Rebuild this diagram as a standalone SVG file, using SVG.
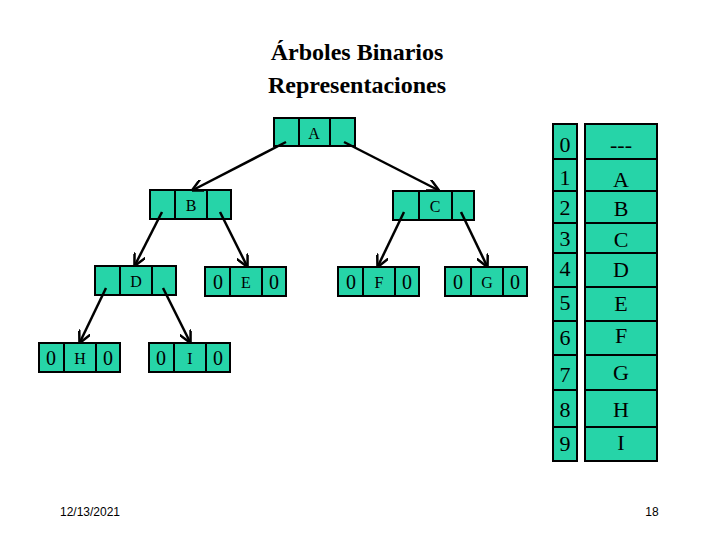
<svg xmlns="http://www.w3.org/2000/svg" width="720" height="540" viewBox="0 0 720 540">
<style>
.c{fill:#00cc99;fill-opacity:0.85;stroke:#000;stroke-width:2}
.t{font-family:"Liberation Serif",serif;font-size:16px;fill:#000;text-anchor:middle}
.tz{font-family:"Liberation Serif",serif;font-size:20px;fill:#000;text-anchor:middle}
.tb{font-family:"Liberation Serif",serif;font-size:22px;fill:#000;text-anchor:middle}
.f{font-family:"Liberation Sans",sans-serif;font-size:12px;fill:#000;text-anchor:middle}
.e{stroke:#000;stroke-width:2.5;fill:none;marker-end:url(#ar)}
</style>
<defs><marker id="ar" viewBox="0 0 10 10" refX="9" refY="5" markerWidth="5" markerHeight="5" orient="auto"><path d="M0,0 L10,5 L0,10" fill="none" stroke="#000" stroke-width="2"/></marker></defs>
<text x="357" y="60" font-family="Liberation Serif,serif" font-size="24" font-weight="bold" text-anchor="middle">Árboles Binarios</text>
<text x="357" y="93" font-family="Liberation Serif,serif" font-size="24" font-weight="bold" text-anchor="middle">Representaciones</text>
<g id="A"><rect class="c" x="274" y="118" width="25" height="28"/><rect class="c" x="299" y="118" width="31" height="28"/><rect class="c" x="330" y="118" width="25" height="28"/><text class="t" x="314" y="139">A</text></g>
<g id="B"><rect class="c" x="150" y="190" width="25" height="29"/><rect class="c" x="175" y="190" width="32" height="29"/><rect class="c" x="207" y="190" width="24" height="29"/><text class="t" x="191" y="211">B</text></g>
<g id="C"><rect class="c" x="393" y="191" width="26" height="29"/><rect class="c" x="419" y="191" width="33" height="29"/><rect class="c" x="452" y="191" width="22" height="29"/><text class="t" x="435" y="212">C</text></g>
<g id="D"><rect class="c" x="95" y="266" width="25" height="29"/><rect class="c" x="120" y="266" width="32" height="29"/><rect class="c" x="152" y="266" width="24" height="29"/><text class="t" x="136" y="287">D</text></g>
<g id="E"><rect class="c" x="205" y="267" width="25" height="29"/><rect class="c" x="230" y="267" width="32" height="29"/><rect class="c" x="262" y="267" width="24" height="29"/><text class="tz" x="218" y="289">0</text><text class="t" x="246" y="288">E</text><text class="tz" x="274" y="289">0</text></g>
<g id="F"><rect class="c" x="338" y="267" width="25" height="29"/><rect class="c" x="363" y="267" width="32" height="29"/><rect class="c" x="395" y="267" width="24" height="29"/><text class="tz" x="351" y="289">0</text><text class="t" x="379" y="288">F</text><text class="tz" x="407" y="289">0</text></g>
<g id="G"><rect class="c" x="445" y="267" width="26" height="29"/><rect class="c" x="471" y="267" width="32" height="29"/><rect class="c" x="503" y="267" width="24" height="29"/><text class="tz" x="458" y="289">0</text><text class="t" x="487" y="288">G</text><text class="tz" x="515" y="289">0</text></g>
<g id="H"><rect class="c" x="39" y="343" width="25" height="29"/><rect class="c" x="64" y="343" width="32" height="29"/><rect class="c" x="96" y="343" width="24" height="29"/><text class="tz" x="51" y="365">0</text><text class="t" x="80" y="364">H</text><text class="tz" x="108" y="365">0</text></g>
<g id="I"><rect class="c" x="149" y="343" width="25" height="29"/><rect class="c" x="174" y="343" width="32" height="29"/><rect class="c" x="206" y="343" width="24" height="29"/><text class="tz" x="161" y="365">0</text><text class="t" x="190" y="364">I</text><text class="tz" x="218" y="365">0</text></g>
<g id="connectors">
<line class="e" x1="286" y1="142" x2="193" y2="190"/>
<line class="e" x1="344" y1="142" x2="438" y2="190"/>
<line class="e" x1="162" y1="212" x2="135" y2="265"/>
<line class="e" x1="220" y1="212" x2="247" y2="266"/>
<line class="e" x1="106" y1="288" x2="80" y2="342"/>
<line class="e" x1="163" y1="288" x2="190" y2="342"/>
<line class="e" x1="404" y1="212" x2="378" y2="266"/>
<line class="e" x1="461" y1="212" x2="487" y2="266"/>
</g>
<g id="table">
<rect class="c" x="553" y="124" width="24" height="35"/><rect class="c" x="585" y="124" width="72" height="35"/>
<rect class="c" x="553" y="159" width="24" height="32"/><rect class="c" x="585" y="159" width="72" height="32"/>
<rect class="c" x="553" y="191" width="24" height="32"/><rect class="c" x="585" y="191" width="72" height="32"/>
<rect class="c" x="553" y="223" width="24" height="30"/><rect class="c" x="585" y="223" width="72" height="30"/>
<rect class="c" x="553" y="253" width="24" height="34"/><rect class="c" x="585" y="253" width="72" height="34"/>
<rect class="c" x="553" y="287" width="24" height="34"/><rect class="c" x="585" y="287" width="72" height="34"/>
<rect class="c" x="553" y="321" width="24" height="34"/><rect class="c" x="585" y="321" width="72" height="34"/>
<rect class="c" x="553" y="355" width="24" height="35"/><rect class="c" x="585" y="355" width="72" height="35"/>
<rect class="c" x="553" y="390" width="24" height="37"/><rect class="c" x="585" y="390" width="72" height="37"/>
<rect class="c" x="553" y="427" width="24" height="34"/><rect class="c" x="585" y="427" width="72" height="34"/>
<text class="tb" x="565" y="152">0</text><text class="tb" x="621" y="152">---</text>
<text class="tb" x="565" y="185">1</text><text class="tb" x="621" y="187">A</text>
<text class="tb" x="565" y="215">2</text><text class="tb" x="621" y="216">B</text>
<text class="tb" x="565" y="246">3</text><text class="tb" x="621" y="247">C</text>
<text class="tb" x="565" y="276">4</text><text class="tb" x="621" y="277">D</text>
<text class="tb" x="565" y="310">5</text><text class="tb" x="621" y="311">E</text>
<text class="tb" x="565" y="345">6</text><text class="tb" x="621" y="343">F</text>
<text class="tb" x="565" y="382">7</text><text class="tb" x="621" y="380">G</text>
<text class="tb" x="565" y="417">8</text><text class="tb" x="621" y="417">H</text>
<text class="tb" x="565" y="451">9</text><text class="tb" x="621" y="450">I</text>
</g>
<text class="f" x="90" y="516">12/13/2021</text>
<text class="f" x="652" y="516">18</text>
</svg>
